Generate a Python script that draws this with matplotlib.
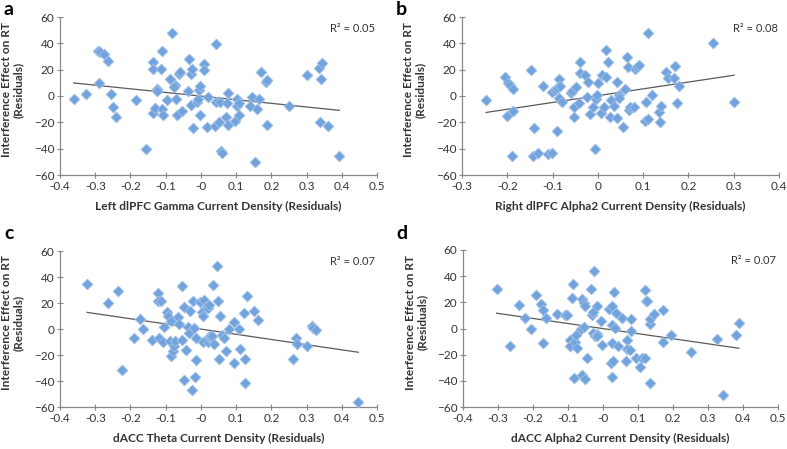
import matplotlib
matplotlib.use("Agg")
import matplotlib.pyplot as plt
import numpy as np

plt.rcParams['font.family'] = ['Lato', 'DejaVu Sans']

# ---------------- data ----------------
a_x = [-0.361, -0.327, -0.291, -0.287, -0.276, -0.265, -0.288, -0.254, -0.249, -0.240,
       -0.185, -0.155, -0.137, -0.135, -0.137, -0.124, -0.126, -0.129, -0.113, -0.110,
       -0.110, -0.107, -0.095, -0.087, -0.081, -0.074, -0.075, -0.072, -0.068, -0.061,
       -0.059, -0.054, -0.037, -0.033, -0.029, -0.024, -0.027, -0.023, -0.012, -0.009,
       -0.005, -0.003, -0.002, 0.009, 0.008, 0.021, 0.018, 0.043, 0.043, 0.041,
       0.051, 0.055, 0.057, 0.059, 0.071, 0.073, 0.077, 0.078, 0.097, 0.103,
       0.103, 0.107, 0.109, 0.140, 0.146, 0.159, 0.164, 0.153, 0.170, 0.184,
       0.187, 0.187, 0.250, 0.300, 0.334, 0.343, 0.341, 0.337, 0.361, 0.393]
a_y = [-2.5, 1.8, 34.5, 33.5, 32.0, 26.6, 10.0, 1.8, -8.4, -16.0,
       -3.0, -40.0, -12.7, 26.0, 20.5, 5.0, 4.0, -9.0, 20.5, 34.0,
       -10.0, -14.7, -3.0, 13.0, 48.0, 8.0, 7.0, -2.3, -14.7, 16.8,
       18.0, -11.4, 3.8, 28.0, 17.0, 20.5, -6.9, -24.4, -4.3, -2.5,
       4.3, 7.6, -14.5, 24.0, 20.0, -0.5, -23.3, 39.6, -4.3, -22.6,
       -19.8, -4.8, -42.0, -43.0, -16.2, -5.6, 2.0, -21.8, -18.8, -7.6,
       -2.3, -5.6, -14.5, -7.4, -0.5, -9.6, -2.0, -50.3, 18.0, 10.9,
       12.2, -21.8, -7.4, 15.7, 21.3, 24.9, 12.7, -20.0, -22.8, -45.4]
a_trend_x = [-0.361, 0.393]
a_trend_y = [9.9, -10.9]

b_x = [-0.247, -0.206, -0.200, -0.198, -0.193, -0.188, -0.187, -0.189, -0.147, -0.144,
       -0.141, -0.133, -0.121, -0.111, -0.102, -0.101, -0.095, -0.091, -0.086, -0.084,
       -0.091, -0.086, -0.080, -0.060, -0.056, -0.053, -0.052, -0.049, -0.040, -0.040,
       -0.041, -0.029, -0.025, -0.022, -0.017, -0.010, -0.007, -0.004, -0.002, 0.001,
       0.006, 0.010, 0.013, 0.017, 0.017, 0.022, 0.027, 0.030, 0.035, 0.042,
       0.043, 0.046, 0.046, 0.056, 0.059, 0.064, 0.066, 0.069, 0.072, 0.080,
       0.083, 0.087, 0.091, 0.105, 0.106, 0.111, 0.111, 0.120, 0.135, 0.139,
       0.137, 0.150, 0.155, 0.169, 0.170, 0.175, 0.179, 0.254, 0.301]
b_y = [-3.0, 14.8, -15.3, 10.2, 8.4, 5.1, -11.5, -45.6, 19.4, -45.6,
       -24.5, -43.0, 7.9, -44.3, -43.0, 3.1, 4.6, 6.4, 12.7, 7.6,
       -26.7, -1.8, -4.3, 2.5, 4.1, -8.7, -15.8, 7.1, 26.2, 17.3,
       -5.6, 16.0, -0.5, 11.0, -13.8, -8.7, -40.5, -2.5, 0.5, 9.7,
       -13.2, 16.0, -8.7, 35.2, 14.8, 25.5, -15.8, -3.0, -7.6, -16.8,
       11.0, 0.8, -1.8, -23.4, 5.4, 30.0, 21.7, -10.7, -8.2, -8.7,
       20.6, 21.7, 23.7, -18.9, -4.8, 47.9, -17.6, 0.8, -12.0, -7.6,
       -19.4, 18.6, 14.0, 13.8, 22.9, -5.6, 7.6, 40.3, -4.8]
b_trend_x = [-0.247, 0.301]
b_trend_y = [-12.5, 15.8]

c_x = [-0.323, -0.265, -0.235, -0.224, -0.173, -0.163, -0.189, -0.140, -0.123, -0.122,
       -0.113, -0.120, -0.107, -0.105, -0.096, -0.093, -0.088, -0.086, -0.084, -0.079,
       -0.075, -0.074, -0.065, -0.062, -0.053, -0.054, -0.047, -0.047, -0.041, -0.036,
       -0.034, -0.030, -0.024, -0.022, -0.020, -0.014, -0.014, -0.016, -0.003, 0.002,
       0.005, 0.007, 0.010, 0.018, 0.021, 0.024, 0.021, 0.024, 0.027, 0.032,
       0.035, 0.037, 0.046, 0.049, 0.051, 0.054, 0.059, 0.065, 0.071, 0.081,
       0.095, 0.095, 0.109, 0.112, 0.122, 0.125, 0.125, 0.130, 0.151, 0.161,
       0.261, 0.270, 0.272, 0.302, 0.315, 0.319, 0.326, 0.447]
c_y = [34.7, 20.2, 29.6, -31.7, 7.4, 0.3, -7.2, -8.7, 27.8, 21.5,
       21.5, -6.6, -9.7, 1.5, 13.3, 9.7, -9.2, 6.1, -20.9, -16.9,
       -13.0, -9.2, 9.2, 3.6, 32.7, -8.7, 16.9, -39.1, -15.8, 1.5,
       -2.8, 13.8, -46.7, 21.5, 1.0, -6.6, -23.5, -36.8, 20.9, 13.3,
       -9.7, 10.0, 22.5, 17.6, 16.3, 18.4, -9.7, -6.1, -5.4, -5.4,
       34.2, -11.2, 48.8, 21.5, -23.0, 10.0, -4.3, -6.6, -16.9, 0.3,
       5.4, -26.3, 0.3, -15.6, 12.5, -22.7, -41.9, 25.3, 13.8, 6.9,
       -23.2, -6.6, -11.2, -13.3, 2.3, 1.0, -0.8, -56.4]
c_trend_x = [-0.323, 0.447]
c_trend_y = [12.8, -17.9]

d_x = [-0.304, -0.265, -0.240, -0.223, -0.207, -0.192, -0.177, -0.172, -0.171, -0.164,
       -0.131, -0.110, -0.103, -0.095, -0.093, -0.086, -0.088, -0.083, -0.080, -0.075,
       -0.076, -0.064, -0.061, -0.059, -0.054, -0.051, -0.051, -0.053, -0.046, -0.034,
       -0.032, -0.029, -0.025, -0.030, -0.023, -0.018, -0.017, -0.017, -0.005, -0.004,
       0.018, 0.022, 0.025, 0.025, 0.026, 0.027, 0.029, 0.032, 0.034, 0.038,
       0.044, 0.055, 0.066, 0.069, 0.069, 0.076, 0.081, 0.080, 0.093, 0.105,
       0.110, 0.120, 0.120, 0.122, 0.126, 0.134, 0.135, 0.134, 0.147, 0.171,
       0.171, 0.193, 0.250, 0.325, 0.344, 0.379, 0.388]
d_y = [29.9, -13.3, 18.1, 8.4, -0.3, 25.8, 18.6, 14.0, -11.2, 7.7,
       11.0, 10.5, 10.0, -8.9, -13.0, 34.0, 23.2, -37.5, -10.7, -14.6,
       -4.9, 0.0, -35.5, 22.2, 19.2, 17.1, -38.3, 0.8, -22.2, 29.9,
       10.5, 12.8, 43.7, -3.3, -5.4, -4.3, 17.1, -6.1, 5.9, -12.5,
       15.1, -26.0, -11.0, -37.0, 17.1, 2.3, -24.8, 28.1, 0.3, 11.5,
       -13.0, 8.4, -24.8, -8.9, -15.3, -16.3, 6.9, -1.8, -22.2, -29.4,
       -22.2, 29.4, -22.2, 20.7, 21.2, 3.3, 7.4, -41.6, 11.0, 14.0,
       -10.5, -5.1, -17.6, -7.9, -50.8, -4.9, 4.3]
d_trend_x = [-0.304, 0.388]
d_trend_y = [11.7, -15.1]

panels = [
    dict(letter='a', x=a_x, y=a_y, tx=a_trend_x, ty=a_trend_y, r2='R² = 0.05',
         xlabel='Left dlPFC Gamma Current Density (Residuals)', xlim=(-0.4, 0.5)),
    dict(letter='b', x=b_x, y=b_y, tx=b_trend_x, ty=b_trend_y, r2='R² = 0.08',
         xlabel='Right dlPFC Alpha2 Current Density (Residuals)', xlim=(-0.3, 0.4)),
    dict(letter='c', x=c_x, y=c_y, tx=c_trend_x, ty=c_trend_y, r2='R² = 0.07',
         xlabel='dACC Theta Current Density (Residuals)', xlim=(-0.4, 0.5)),
    dict(letter='d', x=d_x, y=d_y, tx=d_trend_x, ty=d_trend_y, r2='R² = 0.07',
         xlabel='dACC Alpha2 Current Density (Residuals)', xlim=(-0.4, 0.5)),
]

W, H = 787, 449
fig = plt.figure(figsize=(W / 100, H / 100), dpi=100)

# axes rectangles in pixels: left, top, right, bottom
rects = [(60, 17, 377, 175), (462, 17, 779, 175), (60, 251, 377, 407), (463, 250, 778, 407)]
letter_pos = [(3, 1), (396, 1), (4, 225), (396, 225)]

for p, (l, t, r, b), (lx, ly) in zip(panels, rects, letter_pos):
    ax = fig.add_axes([l / W, 1 - b / H, (r - l) / W, (b - t) / H])
    ax.plot(p['tx'], p['ty'], color='#5a5a5a', lw=0.9, zorder=2)
    ax.scatter(p['x'], p['y'], marker='D', s=30, color='#72A3DC',
               edgecolors='#A3C2E8', linewidths=0.6, zorder=3)
    ax.set_xlim(*p['xlim'])
    ax.set_ylim(-60, 60)
    x0, x1 = p['xlim']
    ticks = np.round(np.arange(x0, x1 + 0.001, 0.1), 1)
    ax.set_xticks(ticks)
    ax.set_xticklabels([('%g' % v) for v in ticks])
    ax.set_yticks(np.arange(-60, 61, 20))
    for s in ['top', 'right']:
        ax.spines[s].set_visible(False)
    for s in ['left', 'bottom']:
        ax.spines[s].set_color('#888888')
        ax.spines[s].set_linewidth(0.9)
    ax.tick_params(direction='inout', length=4, width=0.8, color='#888888',
                   labelsize=8.5, labelcolor='#333333', pad=2)
    ax.set_xlabel(p['xlabel'], fontsize=8.6, fontweight='bold', color='#333333', labelpad=7)
    ax.set_ylabel('Interference Effect on RT\n(Residuals)', fontsize=8.6,
                  fontweight='bold', color='#333333', linespacing=1.1)
    ax.yaxis.set_label_coords(-0.113, 0.54)
    ax.text(0.995, 0.93, p['r2'], transform=ax.transAxes, ha='right', va='center',
            fontsize=8, color='#333333')
    fig.text(lx / W, 1 - ly / H, p['letter'], ha='left', va='top', fontsize=14,
             fontweight='bold', color='black')

fig.savefig('out.png', dpi=100)
